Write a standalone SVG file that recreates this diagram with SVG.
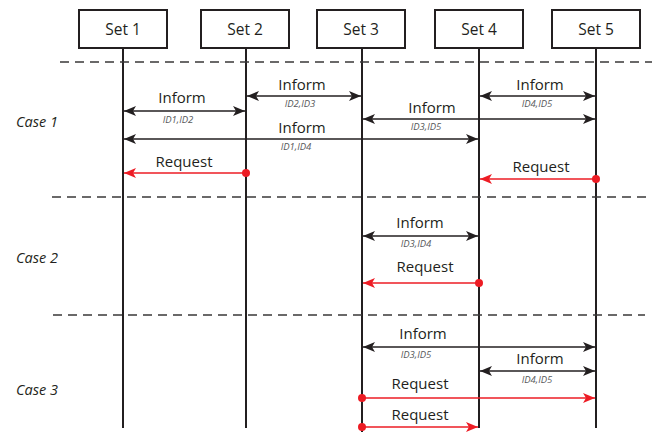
<svg xmlns="http://www.w3.org/2000/svg" width="655" height="432" viewBox="0 0 655 432">
  <style>
    .box { fill: #ffffff; stroke: #231f20; stroke-width: 2; }
    .life { stroke: #231f20; stroke-width: 2; fill: none; }
    .sep { stroke: #3a3839; stroke-width: 1.3; stroke-dasharray: 9 6; fill: none; }
    .inf { stroke: #231f20; stroke-width: 1.3; fill: none; marker-start: url(#ak); marker-end: url(#ak); }
    .req { stroke: #ed1c24; stroke-width: 1.3; fill: none; marker-end: url(#ar); }
    .dot { fill: #ed1c24; }
    .name { font-family: "Open Sans", "Liberation Sans", sans-serif; font-size: 15.5px; fill: #231f20; text-anchor: middle; }
    .lbl { font-family: "Open Sans", "Liberation Sans", sans-serif; font-size: 15px; fill: #231f20; text-anchor: middle; }
    .id { font-family: "Open Sans", "Liberation Sans", sans-serif; font-size: 9.5px; font-style: italic; fill: #58595b; text-anchor: middle; }
    .case { font-family: "Open Sans", "Liberation Sans", sans-serif; font-size: 14.5px; font-style: italic; fill: #231f20; }
  </style>
  <defs>
    <marker id="ak" viewBox="0 0 12 10" refX="12" refY="5" markerWidth="12" markerHeight="10" markerUnits="userSpaceOnUse" orient="auto-start-reverse">
      <path d="M0,0 L12,5 L0,10 L3,5 z" fill="#231f20"/>
    </marker>
    <marker id="ar" viewBox="0 0 12 10" refX="12" refY="5" markerWidth="12" markerHeight="10" markerUnits="userSpaceOnUse" orient="auto-start-reverse">
      <path d="M0,0 L12,5 L0,10 L3,5 z" fill="#ed1c24"/>
    </marker>
  </defs>

  <rect width="655" height="432" fill="#ffffff"/>

  <!-- lifelines -->
  <g id="lifelines">
    <line class="life" x1="123" y1="48" x2="123" y2="428"/>
    <line class="life" x1="246" y1="48" x2="246" y2="428"/>
    <line class="life" x1="362" y1="48" x2="362" y2="432"/>
    <line class="life" x1="479" y1="48" x2="479" y2="428"/>
    <line class="life" x1="596" y1="48" x2="596" y2="428"/>
  </g>

  <!-- participants -->
  <g id="set1"><rect class="box" x="79" y="10" width="88" height="38"/><text class="name" x="123" y="35">Set 1</text></g>
  <g id="set2"><rect class="box" x="201" y="10" width="88" height="38"/><text class="name" x="245" y="35">Set 2</text></g>
  <g id="set3"><rect class="box" x="317" y="10" width="88" height="38"/><text class="name" x="361" y="35">Set 3</text></g>
  <g id="set4"><rect class="box" x="435" y="10" width="88" height="38"/><text class="name" x="479" y="35">Set 4</text></g>
  <g id="set5"><rect class="box" x="552" y="10" width="88" height="38"/><text class="name" x="596" y="35">Set 5</text></g>

  <!-- case separators -->
  <g id="separators">
    <line class="sep" x1="60" y1="62" x2="652" y2="62"/>
    <line class="sep" x1="52" y1="197" x2="652" y2="197"/>
    <line class="sep" x1="53" y1="315" x2="645" y2="315"/>
  </g>

  <!-- case labels -->
  <g id="cases">
    <text class="case" x="16" y="127">Case 1</text>
    <text class="case" x="16" y="263">Case 2</text>
    <text class="case" x="16" y="395">Case 3</text>
  </g>

  <!-- messages -->
  <g id="connectors">
    <!-- Case 1 -->
    <line class="inf" x1="124" y1="111" x2="245" y2="111"/>
    <text class="lbl" x="182" y="103">Inform</text>
    <text class="id" x="178" y="123">ID1,ID2</text>

    <line class="inf" x1="247" y1="96" x2="361" y2="96"/>
    <text class="lbl" x="302" y="90">Inform</text>
    <text class="id" x="300" y="107">ID2,ID3</text>

    <line class="inf" x1="480" y1="96" x2="595" y2="96"/>
    <text class="lbl" x="540" y="90">Inform</text>
    <text class="id" x="537" y="107">ID4,ID5</text>

    <line class="inf" x1="363" y1="119" x2="595" y2="119"/>
    <text class="lbl" x="432" y="113">Inform</text>
    <text class="id" x="426" y="130">ID3,ID5</text>

    <line class="inf" x1="124" y1="139" x2="478" y2="139"/>
    <text class="lbl" x="302" y="133">Inform</text>
    <text class="id" x="296" y="150">ID1,ID4</text>

    <line class="req" x1="246" y1="173" x2="124" y2="173"/>
    <circle class="dot" cx="246" cy="173" r="4"/>
    <text class="lbl" x="184" y="167">Request</text>

    <line class="req" x1="596" y1="179" x2="480" y2="179"/>
    <circle class="dot" cx="596" cy="179" r="4"/>
    <text class="lbl" x="541" y="172">Request</text>

    <!-- Case 2 -->
    <line class="inf" x1="363" y1="236" x2="478" y2="236"/>
    <text class="lbl" x="420" y="228">Inform</text>
    <text class="id" x="416" y="247">ID3,ID4</text>

    <line class="req" x1="479" y1="283" x2="363" y2="283"/>
    <circle class="dot" cx="479" cy="283" r="4"/>
    <text class="lbl" x="425" y="272">Request</text>

    <!-- Case 3 -->
    <line class="inf" x1="363" y1="347" x2="595" y2="347"/>
    <text class="lbl" x="423" y="339">Inform</text>
    <text class="id" x="416" y="358">ID3,ID5</text>

    <line class="inf" x1="480" y1="371" x2="595" y2="371"/>
    <text class="lbl" x="540" y="364">Inform</text>
    <text class="id" x="537" y="383">ID4,ID5</text>

    <line class="req" x1="362" y1="398" x2="595" y2="398"/>
    <circle class="dot" cx="362" cy="398" r="4"/>
    <text class="lbl" x="420" y="389">Request</text>

    <line class="req" x1="362" y1="427" x2="478" y2="427"/>
    <circle class="dot" cx="362" cy="427" r="4"/>
    <text class="lbl" x="420" y="420">Request</text>
  </g>
</svg>
